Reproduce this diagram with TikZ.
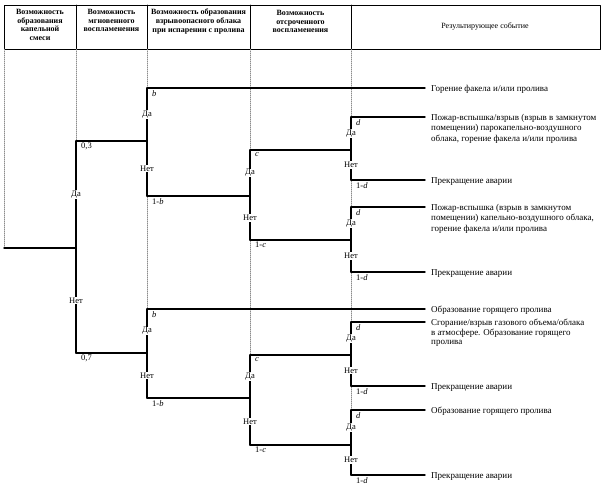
\documentclass[tikz,border=0pt]{standalone}
\usepackage{fontspec}
\setmainfont{Liberation Serif}
\usetikzlibrary{positioning}
\definecolor{guidegray}{rgb}{0.55,0.55,0.55}

\begin{document}
\begin{tikzpicture}[line cap=round,line join=round,x=1pt,y=-1pt,
  branch/.style={line width=1.4pt},
  frame/.style={line width=0.8pt},
  guide/.style={line width=0.5pt,color=guidegray,dash pattern=on 1pt off 1pt},
  head/.style={font=\fontsize{8}{8.6}\selectfont\bfseries,align=center,inner sep=0pt,anchor=north},
  yesno/.style={font=\fontsize{8.5}{9}\selectfont,fill=white,inner sep=0.8pt},
  prob/.style={font=\fontsize{8.5}{9}\selectfont,inner sep=0pt},
  event/.style={font=\fontsize{9}{10.5}\selectfont,align=left,inner sep=0pt,anchor=north west,xshift=6pt,yshift=3pt}]
\useasboundingbox (0,0) rectangle (605,490);
% header row
\draw [frame] (4,5) rectangle (600,49);
\foreach \x in {76,147,250,351} \draw [frame] (\x,5) -- (\x,49);
\node[head] (h1) at (40,9) {Возможность\\образования\\капельной\\смеси};
\node[head] (h2) at (111.5,9) {Возможность\\мгновенного\\воспламенения};
\node[head] (h3) at (198.5,9) {Возможность образования\\взрывоопасного облака\\при испарении с пролива};
\node[head] (h4) at (300.5,10) {Возможность\\отсроченного\\воспламенения};
\node[head,anchor=center,font=\fontsize{8}{8.6}\selectfont] (h5) at (485,26) {Результирующее событие};
% dotted column guides
\foreach \x/\y in {4/248,76/141,147/309,250/355,351/410} \draw [guide] (\x,49) -- (\x,\y);
% decision verticals: name/x/top/middle/bottom/yes prob/no prob
\foreach \n/\x/\t/\m/\b/\py/\pn in {v1/76/141/248/353/{0,3}/{0,7},
    v2/147/88/141/196/\textit{b}/1-\textit{b}, v3/250/150/196/240/\textit{c}/1-\textit{c},
    v4/351/117/150/180/\textit{d}/1-\textit{d}, v5/351/207/240/272/\textit{d}/1-\textit{d},
    v6/147/309/353/398/\textit{b}/1-\textit{b}, v7/250/355/398/445/\textit{c}/1-\textit{c},
    v8/351/322/355/386/\textit{d}/1-\textit{d}, v9/351/410/445/475/\textit{d}/1-\textit{d}}{
  \coordinate (\n-t) at (\x,\t);
  \coordinate (\n-b) at (\x,\b);
  \draw [branch] (\n-t) -- (\n-b);
  \node[yesno] (\n-yes) at (\x,{(\t+\m)/2}) {Да};
  \node[yesno] (\n-no) at (\x,{(\m+\b)/2}) {Нет};
  \node[prob,below right=2pt and 5pt of \n-t] (\n-py) {\py};
  \node[prob,below right=2pt and 5pt of \n-b] (\n-pn) {\pn};
}
% links between decisions
\coordinate (root) at (4,248);
\draw [branch] (root) -- (root -| v1-t);
\draw [branch] (v1-t) -- (v1-t -| v2-t);
\draw [branch] (v1-b) -- (v1-b -| v6-t);
\draw [branch] (v2-b) -- (v2-b -| v3-t);
\draw [branch] (v3-t) -- (v3-t -| v4-t);
\draw [branch] (v3-b) -- (v3-b -| v5-t);
\draw [branch] (v6-b) -- (v6-b -| v7-t);
\draw [branch] (v7-t) -- (v7-t -| v8-t);
\draw [branch] (v7-b) -- (v7-b -| v9-t);
% outcomes
\coordinate (e1) at (425,88);
\coordinate (e2) at (425,117);
\coordinate (e3) at (425,180);
\coordinate (e4) at (425,207);
\coordinate (e5) at (425,272);
\coordinate (e6) at (425,309);
\coordinate (e7) at (425,322);
\coordinate (e8) at (425,386);
\coordinate (e9) at (425,410);
\coordinate (e10) at (425,475);
\foreach \v/\e in {v2-t/e1,v4-t/e2,v4-b/e3,v5-t/e4,v5-b/e5,v6-t/e6,v8-t/e7,v8-b/e8,v9-t/e9,v9-b/e10}
  \draw [branch] (\v) -- (\e);
\node[event] (t1) at (e1) {Горение факела и/или пролива};
\node[event] (t2) at (e2) {Пожар-вспышка/взрыв (взрыв в замкнутом\\помещении) парокапельно-воздушного\\облака, горение факела и/или пролива};
\node[event] (t3) at (e3) {Прекращение аварии};
\node[event] (t4) at (e4) {Пожар-вспышка (взрыв в замкнутом\\помещении) капельно-воздушного облака,\\горение факела и/или пролива};
\node[event] (t5) at (e5) {Прекращение аварии};
\node[event] (t6) at (e6) {Образование горящего пролива};
\node[event,font=\fontsize{9}{9.5}\selectfont] (t7) at (e7) {Сгорание/взрыв газового объема/облака\\в атмосфере. Образование горящего\\пролива};
\node[event] (t8) at (e8) {Прекращение аварии};
\node[event] (t9) at (e9) {Образование горящего пролива};
\node[event] (t10) at (e10) {Прекращение аварии};
\end{tikzpicture}
\end{document}
